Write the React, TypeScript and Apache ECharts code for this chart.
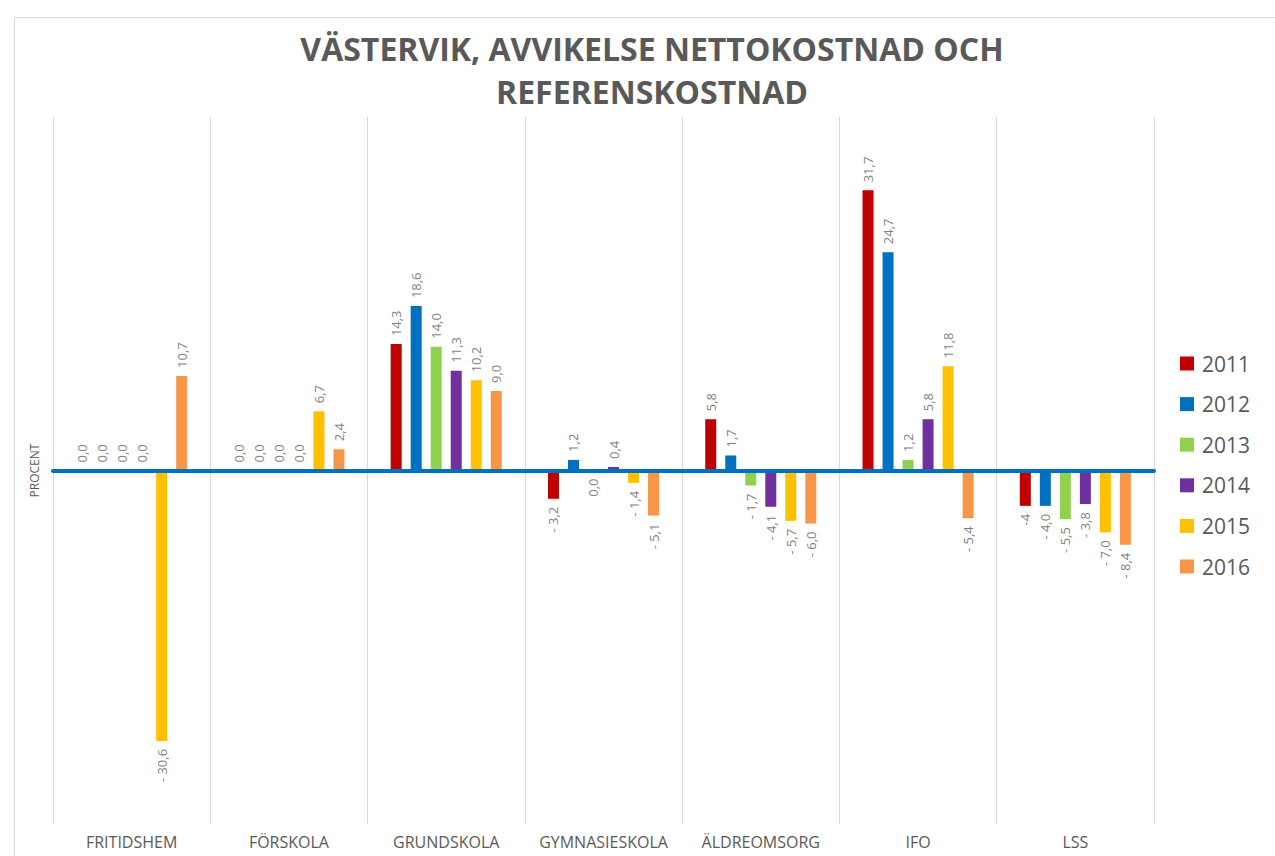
import React, { useEffect, useRef } from "react";
import * as echarts from "echarts";

const categories = ["FRITIDSHEM", "FÖRSKOLA", "GRUNDSKOLA", "GYMNASIESKOLA", "ÄLDREOMSORG", "IFO", "LSS"];
const years = ["2011", "2012", "2013", "2014", "2015", "2016"];
const colors = ["#C00000", "#0070C0", "#92D050", "#7030A0", "#FFC000", "#F79646"];

const v2011 = [0.0, 0.0, 14.3, -3.2, 5.8, 31.7, -4];
const v2012 = [0.0, 0.0, 18.6, 1.2, 1.7, 24.7, -4.0];
const v2013 = [0.0, 0.0, 14.0, 0.0, -1.7, 1.2, -5.5];
const v2014 = [0.0, 0.0, 11.3, 0.4, -4.1, 5.8, -3.8];
const v2015 = [-30.6, 6.7, 10.2, -1.4, -5.7, 11.8, -7.0];
const v2016 = [10.7, 2.4, 9.0, -5.1, -6.0, -5.4, -8.4];
const seriesValues = [v2011, v2012, v2013, v2014, v2015, v2016];

// label text exceptions as shown in the source
const labelTextOverrides: Record<string, string> = { "2011|LSS": "-4" };
const labelBelowZero = ["2013|GYMNASIESKOLA"];

const fmt = (v: number) => {
  const s = Math.abs(v).toFixed(1).replace(".", ",");
  return v < 0 ? "- " + s : s;
};

export default function App() {
  const ref = useRef<HTMLDivElement>(null);
  useEffect(() => {
    document.body.style.margin = "0";
    const chart = echarts.init(ref.current!, null, { renderer: "svg" });
    const labelFont = { fontFamily: "Open Sans", fontSize: 13, color: "#7F7F7F" };
    const series = years.map((y, si) => ({
      name: y,
      type: "bar",
      xAxisIndex: 0,
      barWidth: 11,
      barGap: "82%",
      itemStyle: { color: colors[si] },
      data: seriesValues[si].map((v, ci) => {
        const key = y + "|" + categories[ci];
        const below = v < 0 || labelBelowZero.includes(key);
        const text = labelTextOverrides[key] ?? fmt(v);
        return {
          value: v,
          label: {
            show: true,
            position: below ? "bottom" : "top",
            distance: 8,
            rotate: 90,
            align: below ? "right" : "left",
            verticalAlign: "middle",
            formatter: () => text,
            ...labelFont,
          },
        };
      }),
    }));
    chart.setOption({
      animation: false,
      backgroundColor: "#ffffff",
      title: {
        text: "VÄSTERVIK, AVVIKELSE NETTOKOSTNAD OCH\nREFERENSKOSTNAD",
        left: 647,
        top: 22,
        textAlign: "center",
        textStyle: {
          fontFamily: "Open Sans",
          fontWeight: "bold",
          fontSize: 32,
          lineHeight: 43,
          color: "#595959",
        },
      },
      legend: {
        orient: "vertical",
        left: 1175,
        top: 348,
        icon: "rect",
        itemWidth: 14,
        itemHeight: 14,
        itemGap: 19.6,
        data: years,
        textStyle: { fontFamily: "Open Sans", fontSize: 21, color: "#595959", padding: [0, 0, 0, 3] },
      },
      grid: { left: 53, right: 121, top: 117, bottom: 32, containLabel: false },
      xAxis: [
        {
          type: "category",
          data: categories,
          position: "bottom",
          axisLine: { show: false, onZero: false },
          axisTick: { show: false },
          axisLabel: {
            interval: 0,
            margin: 9,
            fontFamily: "Open Sans",
            fontSize: 16,
            lineHeight: 18,
            color: "#595959",
          },
          splitLine: { show: true, interval: 0, lineStyle: { color: "#D9D9D9", width: 1 } },
        },
        {
          type: "category",
          data: categories,
          position: "top",
          z: 10,
          axisLine: { show: true, onZero: true, lineStyle: { color: "#0070C0", width: 4 } },
          axisTick: { show: false },
          axisLabel: { show: false },
          splitLine: { show: false },
        },
      ],
      yAxis: {
        type: "value",
        min: -40,
        max: 40,
        name: "PROCENT",
        nameLocation: "middle",
        nameRotate: 90,
        nameGap: 13,
        nameTextStyle: { fontFamily: "Open Sans", fontSize: 12, color: "#595959" },
        axisLine: { show: false },
        axisTick: { show: false },
        axisLabel: { show: false },
        splitLine: { show: false },
      },
      graphic: [
        {
          type: "rect",
          left: 12,
          top: 15,
          shape: { width: 1300, height: 900 },
          style: { fill: "none", stroke: "#D9D9D9", lineWidth: 1 },
          silent: true,
        },
      ],
      series,
    });
    return () => chart.dispose();
  }, []);
  return <div ref={ref} style={{ width: 1275, height: 856 }} />;
}
